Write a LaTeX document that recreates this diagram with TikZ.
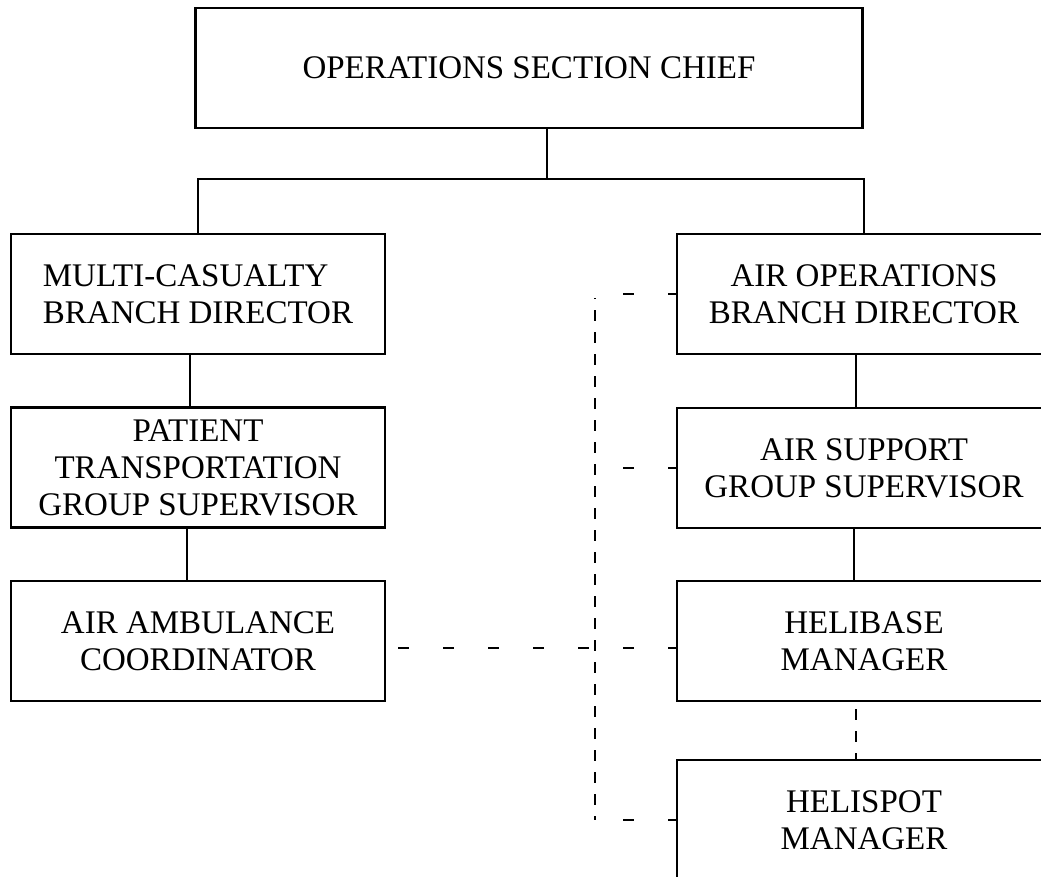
\documentclass[tikz,border=0pt]{standalone}
\usepackage{fontspec}
\setmainfont{Liberation Serif}
\usepackage{tikz}
\newcommand{\orgfont}{\fontsize{33}{37}\selectfont}

\begin{document}
\begin{tikzpicture}[x=1pt, y=-1pt,
    orgbox/.style={draw, line width=2.2pt, minimum width=374pt, minimum height=120pt, inner sep=0pt, align=center, font=\orgfont},
    link/.style={line width=2pt},
    stub/.style={line width=2.5pt, dash pattern=on 11pt off 34pt, dash phase=3pt},
    spine/.style={line width=2.5pt, dash pattern=on 11pt off 11pt, dash phase=10pt}]
  \useasboundingbox (0,0) rectangle (1041,876);
  \clip (0,0) rectangle (1041,876);
  \node[orgbox, minimum width=667pt] (chief) at (529,68) {OPERATIONS SECTION CHIEF};
  \node[orgbox, align=left] (mcbd) at (198,294) {MULTI-CASUALTY\\BRANCH DIRECTOR};
  \node[orgbox] (ptgs) at (198,467.5) {PATIENT\\TRANSPORTATION\\GROUP SUPERVISOR};
  \node[orgbox] (aac) at (198,641) {AIR AMBULANCE\\COORDINATOR};
  \node[orgbox] (aobd) at (864,294) {AIR OPERATIONS\\BRANCH DIRECTOR};
  \node[orgbox] (asgs) at (864,468) {AIR SUPPORT\\GROUP SUPERVISOR};
  \node[orgbox] (hb) at (864,641) {HELIBASE\\MANAGER};
  \node[orgbox] (hs) at (864,820) {HELISPOT\\MANAGER};
  \coordinate (spinetop) at (595,298);
  \draw[link] ([xshift=18pt]chief.south) -- ++(0,50) coordinate (fork);
  \draw[link] (mcbd.north) |- (fork) -| (aobd.north);
  \draw[link] ([xshift=-8pt]mcbd.south) -- ([xshift=-8pt]ptgs.north);
  \draw[link] ([xshift=-11pt]ptgs.south) -- ([xshift=-11pt]aac.north);
  \draw[link] ([xshift=-8pt]aobd.south) -- ([xshift=-8pt]asgs.north);
  \draw[link] ([xshift=-10pt]asgs.south) -- ([xshift=-10pt]hb.north);
  \draw[spine, dash phase=15pt] ([xshift=-8pt]hb.south) -- ([xshift=-8pt]hs.north);
  \draw[spine] (spinetop) -- (spinetop |- hs.west);
  \draw[stub] (aobd.west) -- (aobd.west -| spinetop);
  \draw[stub] (asgs.west) -- (asgs.west -| spinetop);
  \draw[stub] ([yshift=-7pt]hb.west) -- ([yshift=-7pt]aac.east);
  \draw[stub] (hs.west) -- (hs.west -| spinetop);
\end{tikzpicture}
\end{document}
